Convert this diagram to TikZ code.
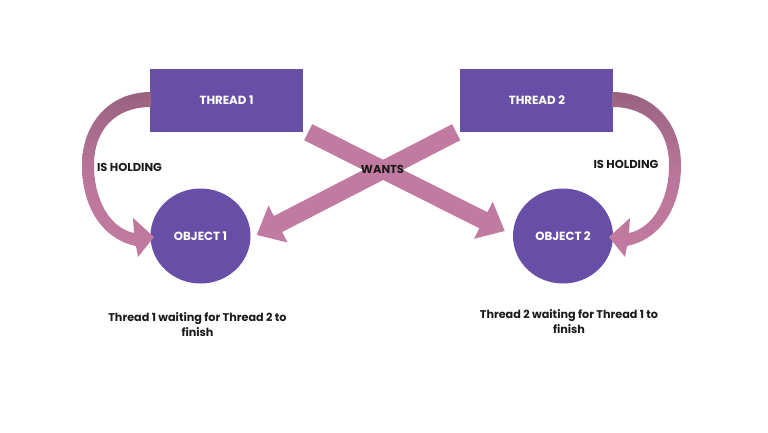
\documentclass[tikz,border=0pt]{standalone}
\usepackage{fontspec}
\setmainfont{Poppins}
\usetikzlibrary{arrows.meta, positioning, shapes.geometric}
\definecolor{threadpurple}{HTML}{674EA7}
\definecolor{wantpink}{HTML}{C27BA0}
\definecolor{holddark}{HTML}{996280}
\definecolor{inkblack}{HTML}{1A1A1A}
\tikzset{
  threadbox/.style={rectangle, fill=threadpurple, minimum width=153pt, minimum height=63pt, text=white, font=\bfseries\fontsize{11.8}{13}\selectfont},
  objectblob/.style={ellipse, fill=threadpurple, minimum width=100pt, minimum height=95pt, inner sep=0pt, text=white, font=\bfseries\fontsize{11.8}{13}\selectfont},
  wantarrow/.style={line width=18pt, draw=wantpink, -{Triangle[length=24pt, width=40pt]}},
  tagtext/.style={text=inkblack, font=\bfseries\fontsize{11.5}{13}\selectfont},
  notetext/.style={text=inkblack, align=center, font=\bfseries\fontsize{11.2}{15}\selectfont}
}
% curved "holding" band, drawn for the left side
\newcommand\holdband{%
  \shade[top color=holddark, bottom color=wantpink, middle color=wantpink!80!holddark]
    (151,92) .. controls (108,92) and (82,125) .. (82,165)
    .. controls (82,210) and (105,240) .. (136,246)
    -- (138,257) -- (154,237) -- (133,218) -- (134,233)
    .. controls (110,228) and (94,200) .. (94,165)
    .. controls (94,130) and (115,107) .. (151,107) -- cycle;}

\begin{document}
\begin{tikzpicture}[x=1pt, y=-1pt]
\useasboundingbox (0,0) rectangle (768,432);

% Threads and objects
\node (t1) [threadbox] at (226.5,100.5) {THREAD 1};
\node (t2) [threadbox, right=157pt of t1] {THREAD 2};
\node (o1) [objectblob] at (200.5,236) {OBJECT 1};
\node (o2) [objectblob] at (563,236) {OBJECT 2};

% Holding
\holdband
\begin{scope}[xshift=763pt, xscale=-1]
\holdband
\end{scope}

% Wants
\draw [wantarrow] ([xshift=5pt]t1.south east) -- ([xshift=-8pt, yshift=5pt]o2.west);
\draw [wantarrow] ([xshift=-4pt]t2.south west) -- ([xshift=6pt, yshift=1pt]o1.east);

% Labels
\node (hold1) [tagtext] at (129.5,167) {IS HOLDING};
\node (hold2) [tagtext] at (626,164) {IS HOLDING};
\node (wants) [tagtext] at (382.5,169) {WANTS};
\node (note1) [notetext] at (197.5,324.5) {Thread 1 waiting for Thread 2 to\\finish};
\node (note2) [notetext] at (569,322) {Thread 2 waiting for Thread 1 to\\finish};

\end{tikzpicture}
\end{document}
